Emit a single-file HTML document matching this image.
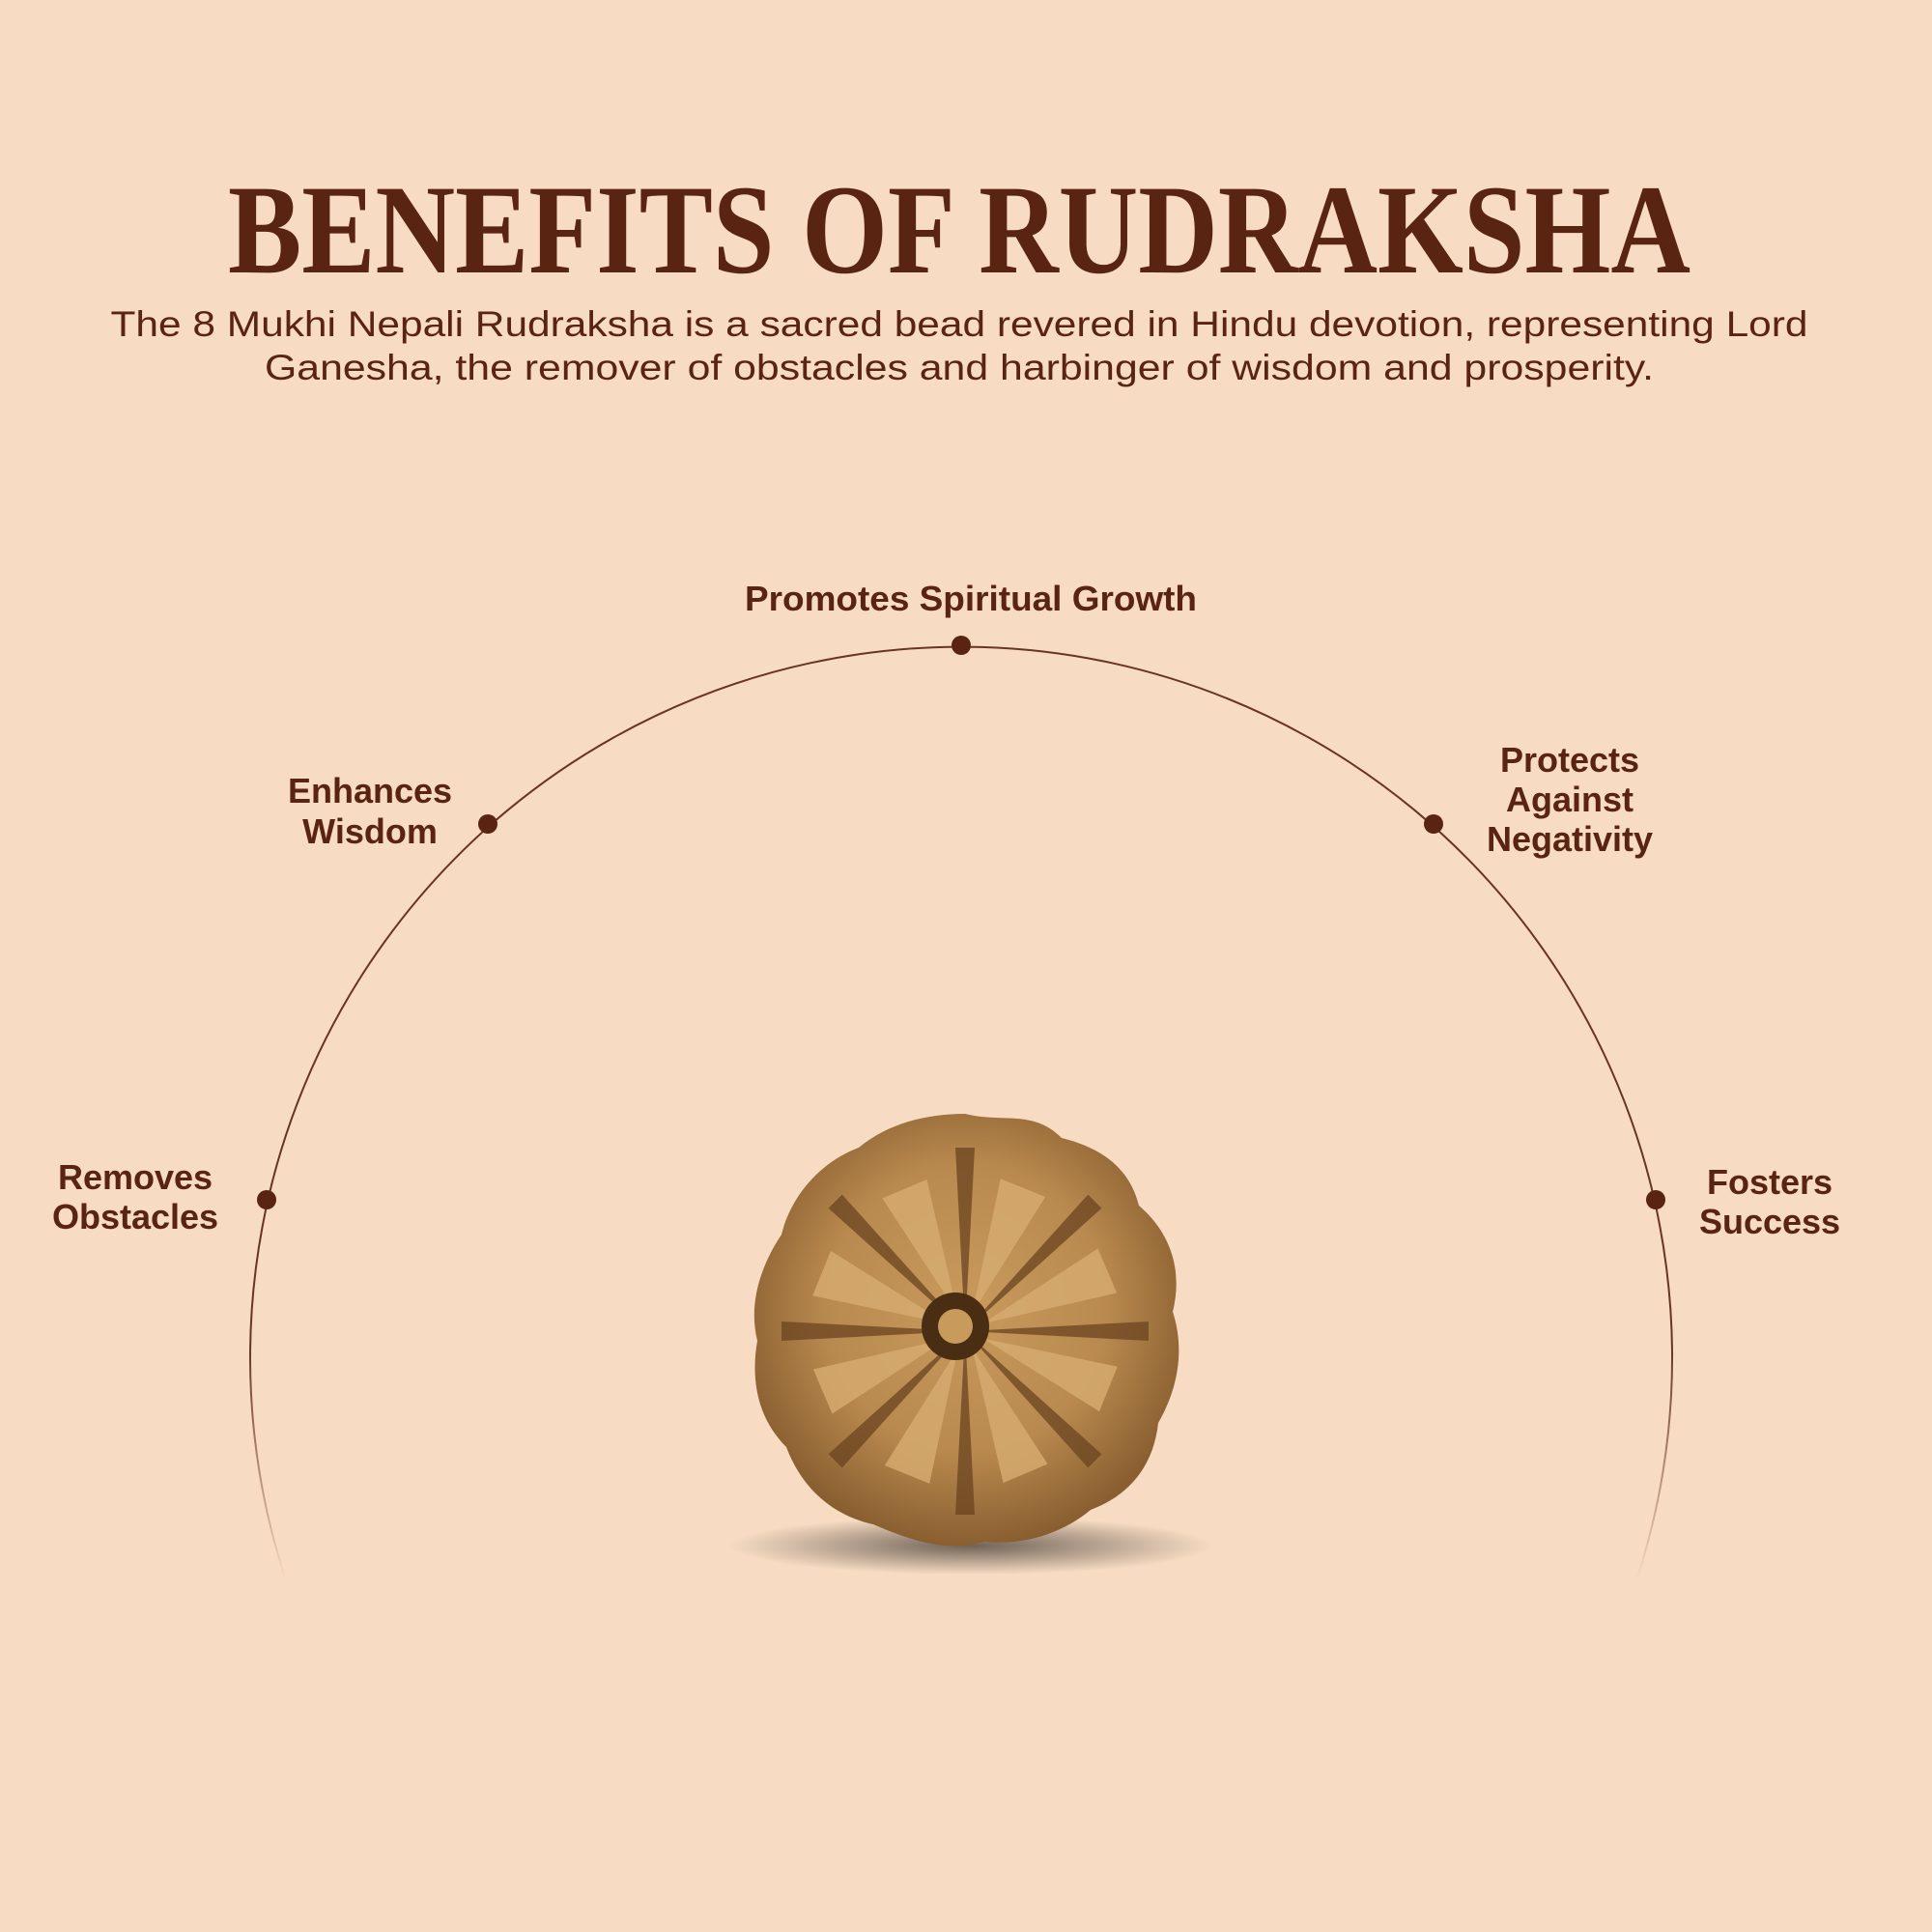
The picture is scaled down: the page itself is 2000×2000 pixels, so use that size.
<!DOCTYPE html>
<html><head><meta charset="utf-8"><style>
html,body{margin:0;padding:0;background:#f7dbc2;}
svg{display:block}
</style></head><body>
<svg width="2000" height="2000" viewBox="0 0 2000 2000" xmlns="http://www.w3.org/2000/svg">
<defs>
<linearGradient id="fade" x1="0" y1="0" x2="0" y2="1">
<stop offset="0.75" stop-color="#6a3422" stop-opacity="1"/>
<stop offset="1" stop-color="#6a3422" stop-opacity="0"/>
</linearGradient>
<radialGradient id="bead" cx="0.5" cy="0.45" r="0.55">
<stop offset="0" stop-color="#c89a5c"/>
<stop offset="0.6" stop-color="#b98a4f"/>
<stop offset="1" stop-color="#8a5f30"/>
</radialGradient>
<radialGradient id="shadow" cx="0.5" cy="0.5" r="0.5">
<stop offset="0" stop-color="#000" stop-opacity="0.55"/>
<stop offset="1" stop-color="#000" stop-opacity="0"/>
</radialGradient>
</defs>
<rect width="2000" height="2000" fill="#f7dbc2"/>
<text x="993" y="282" text-anchor="middle" font-family="Liberation Serif, serif" font-weight="bold" font-size="132" fill="#5a2412" textLength="1514" lengthAdjust="spacingAndGlyphs">BENEFITS OF RUDRAKSHA</text>
<g font-family="Liberation Sans, sans-serif" fill="#5a2412" font-size="37">
<text x="993" y="348" text-anchor="middle" textLength="1757" lengthAdjust="spacingAndGlyphs">The 8 Mukhi Nepali Rudraksha is a sacred bead revered in Hindu devotion, representing Lord</text>
<text x="993" y="393" text-anchor="middle" textLength="1438" lengthAdjust="spacingAndGlyphs">Ganesha, the remover of obstacles and harbinger of wisdom and prosperity.</text>
</g>
<path d="M 296 1636 A 736 736 0 1 1 1694 1636" fill="none" stroke="url(#fade)" stroke-width="2"/>
<g fill="#5a2412">
<circle cx="995" cy="668" r="10"/>
<circle cx="505" cy="853" r="10"/>
<circle cx="1484" cy="853" r="10"/>
<circle cx="276" cy="1242" r="10"/>
<circle cx="1714" cy="1242" r="10"/>
</g>
<g font-family="Liberation Sans, sans-serif" font-weight="bold" fill="#5a2412" font-size="36" text-anchor="middle">
<text x="1005" y="632" textLength="468" lengthAdjust="spacingAndGlyphs">Promotes Spiritual Growth</text>
<text x="383" y="831">Enhances</text><text x="383" y="873">Wisdom</text>
<text x="1625" y="799">Protects</text><text x="1625" y="840">Against</text><text x="1625" y="881">Negativity</text>
<text x="140" y="1231">Removes</text><text x="140" y="1272">Obstacles</text>
<text x="1832" y="1236">Fosters</text><text x="1832" y="1277">Success</text>
</g>
<ellipse cx="1005" cy="1600" rx="250" ry="30" fill="url(#shadow)"/>
<g transform="translate(999,1378)">
<path d="M0,-225 C40,-215 70,-230 100,-200 C140,-190 170,-170 180,-130 C215,-100 225,-60 215,-20 C228,20 220,60 200,95 C195,140 170,170 130,185 C100,210 60,222 20,218 C-20,230 -60,215 -95,200 C-140,190 -170,160 -185,120 C-215,90 -222,50 -215,10 C-225,-30 -210,-70 -190,-100 C-180,-140 -150,-175 -110,-190 C-80,-215 -40,-225 0,-225 Z" fill="url(#bead)"/>
<g fill="#6b4420" opacity="0.75">
<path d="M0,0 L-10,-190 L10,-190 Z"/>
<path d="M0,0 L-10,-190 L10,-190 Z" transform="rotate(45)"/>
<path d="M0,0 L-10,-190 L10,-190 Z" transform="rotate(90)"/>
<path d="M0,0 L-10,-190 L10,-190 Z" transform="rotate(135)"/>
<path d="M0,0 L-10,-190 L10,-190 Z" transform="rotate(180)"/>
<path d="M0,0 L-10,-190 L10,-190 Z" transform="rotate(225)"/>
<path d="M0,0 L-10,-190 L10,-190 Z" transform="rotate(270)"/>
<path d="M0,0 L-10,-190 L10,-190 Z" transform="rotate(315)"/>
</g>
<g fill="#d8ad72" opacity="0.8">
<path d="M0,-20 L-25,-160 L25,-160 Z" transform="rotate(22)"/>
<path d="M0,-20 L-25,-160 L25,-160 Z" transform="rotate(67)"/>
<path d="M0,-20 L-25,-160 L25,-160 Z" transform="rotate(112)"/>
<path d="M0,-20 L-25,-160 L25,-160 Z" transform="rotate(157)"/>
<path d="M0,-20 L-25,-160 L25,-160 Z" transform="rotate(202)"/>
<path d="M0,-20 L-25,-160 L25,-160 Z" transform="rotate(247)"/>
<path d="M0,-20 L-25,-160 L25,-160 Z" transform="rotate(292)"/>
<path d="M0,-20 L-25,-160 L25,-160 Z" transform="rotate(337)"/>
</g>
<circle cx="-10" cy="-5" r="35" fill="#4a2e14"/>
<circle cx="-10" cy="-5" r="18" fill="#c89a5c"/>
</g>
</svg>
</body></html>
